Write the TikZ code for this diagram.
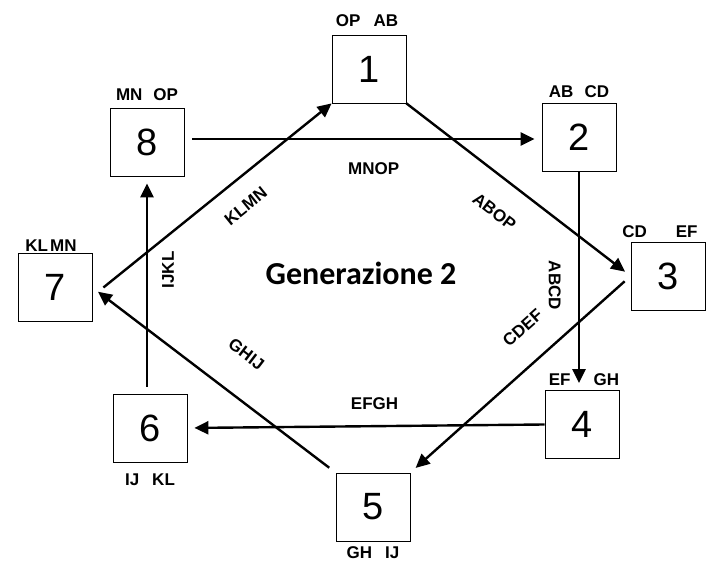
\documentclass[tikz,border=0pt]{standalone}
\usepackage{fontspec}
\setmainfont{Liberation Sans}
\newfontfamily\titlefont{Carlito}
\usepackage{tikz}
\usetikzlibrary{arrows.meta,positioning}

\begin{document}
\begin{tikzpicture}[x=1pt, y=1pt,
    box/.style={draw, line width=0.8pt, minimum width=74pt, minimum height=68pt, inner sep=0pt, font=\fontsize{38}{40}\selectfont},
    pairt/.style={inner sep=0pt, font=\fontsize{17}{20}\selectfont\bfseries},
    arrt/.style={inner sep=0pt, font=\fontsize{17}{20}\selectfont\bfseries},
    arr/.style={-{Triangle[length=14pt, width=13pt]}, line width=2.4pt, shorten >=7pt}]
    \useasboundingbox (0,0) rectangle (708,561);

    \node[box] (n1) at (369,492) {1};
    \node[box] (n2) at (579,423.5) {2};
    \node[box] (n3) at (668,285) {3};
    \node[box] (n4) at (582,136.5) {4};
    \node[box] (n5) at (373,54) {5};
    \node[box] (n6) at (150,133) {6};
    \node[box] (n7) at (55,273.5) {7};
    \node[box] (n8) at (147,419) {8};

    \node[pairt, above = 8pt of n1, xshift=-2pt] (l1) {OP\hspace{13pt}AB};
    \node[pairt, above = 5pt of n2] (l2) {AB\hspace{11pt}CD};
    \node[pairt, above = 4pt of n3, xshift=-8pt] (l3) {CD\hspace{29pt}EF};
    \node[pairt, above = 4pt of n4, xshift=2pt] (l4) {EF\hspace{23pt}GH};
    \node[pairt, below = 5pt of n5] (l5) {GH\hspace{13pt}IJ};
    \node[pairt, below = 11pt of n6] (l6) {IJ\hspace{13pt}KL};
    \node[pairt, above = 1pt of n7, xshift=-4pt] (l7) {KL\hspace{2pt}MN};
    \node[pairt, above = 7pt of n8] (l8) {MN\hspace{11pt}OP};

    \node[inner sep=0pt, font=\titlefont\fontsize{32}{36}\selectfont\bfseries] (gen) at (361,288) {Generazione 2};

    \draw[arr, shorten <=8pt] ([yshift=3pt]n8.east) -- node[arrt, pos=0.53, below=22pt] {MNOP} ([yshift=3pt]n8.east -| n2.west);
    \draw[arr] (n1.south east) -- node[arrt, sloped, pos=0.48, below=25pt] {ABOP} (n3.west);
    \draw[arr] (n2.south) -- node[arrt, sloped, pos=0.52, below=17pt] {ABCD} (n2.south |- n4.north);
    \draw[arr, shorten <=8pt] (n3.west) -- node[arrt, sloped, pos=0.39, above=26pt] {CDEF} (n5.north east);
    \draw[arr] (n4.west) -- node[arrt, pos=0.476, above=15pt] {EFGH} (n6.east);
    \draw[arr, shorten <=8pt] (n5.north west) -- node[arrt, sloped, pos=0.467, above=33pt] {GHIJ} (n7.east);
    \draw[arr, shorten <=7pt] (n8.south |- n6.north) -- node[arrt, sloped, pos=0.57, below=14pt] {IJKL} (n8.south);
    \draw[arr, shorten >=0pt] ([xshift=11pt]n7.east) -- node[arrt, sloped, pos=0.552, below=19pt] {KLMN} (n1.south west);
\end{tikzpicture}
\end{document}
